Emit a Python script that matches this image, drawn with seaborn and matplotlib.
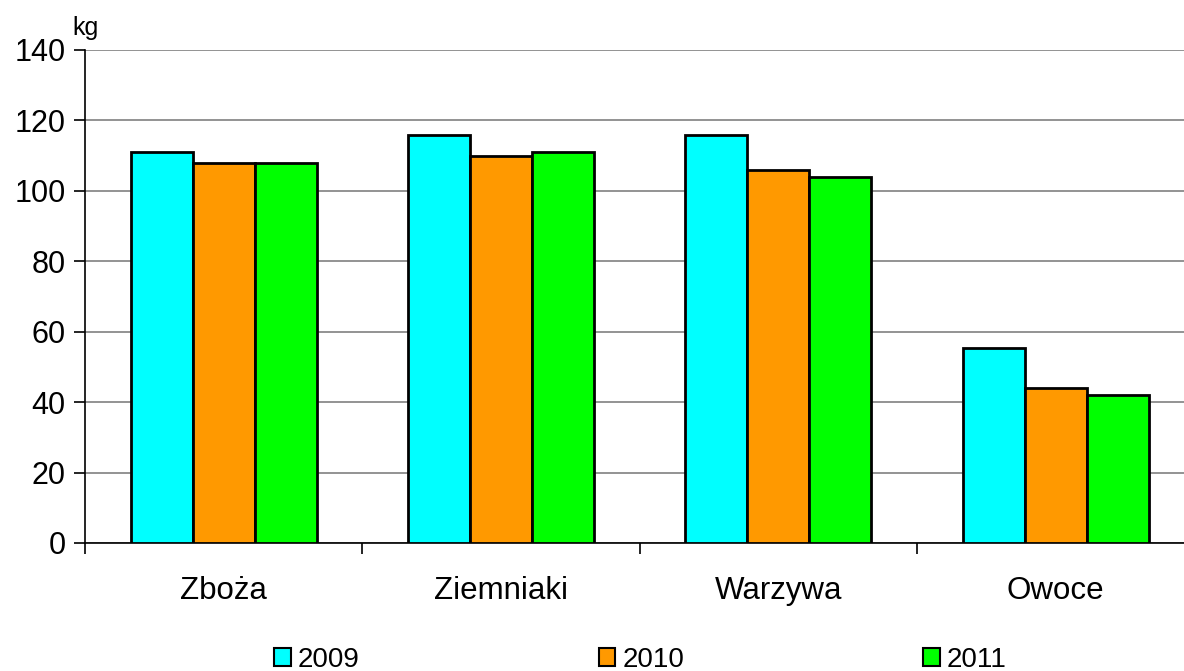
import pandas as pd
import seaborn as sns
import matplotlib.pyplot as plt

categories = ['Zboża', 'Ziemniaki', 'Warzywa', 'Owoce']
years = ['2009', '2010', '2011']
v2009 = [111, 116, 116, 55.5]
v2010 = [108, 110, 106, 44]
v2011 = [108, 111, 104, 42]
colors = ['#00FFFF', '#FF9900', '#00FF00']

df = pd.DataFrame({
    'kat': categories * 3,
    'rok': [y for y in years for _ in categories],
    'kg': v2009 + v2010 + v2011,
})

sns.set_style('white')
plt.rcParams['font.family'] = ['Liberation Sans', 'DejaVu Sans']
plt.rcParams['text.color'] = 'black'
plt.rcParams['xtick.color'] = 'black'
plt.rcParams['ytick.color'] = 'black'

fig = plt.figure(figsize=(11.84, 6.71), dpi=100)
ax = fig.add_axes([0.0718, 0.1908, 0.937, 0.7347])

sns.barplot(data=df, x='kat', y='kg', hue='rok', palette=colors, width=0.67,
            edgecolor='black', linewidth=2, saturation=1, ax=ax, zorder=3)

ax.set_ylim(0, 140)
ax.set_xlim(-0.5, 3.5)
ax.set_yticks(range(0, 141, 20))
ax.yaxis.grid(True, color='#808080', linewidth=1.2, zorder=0)
ax.set_axisbelow(True)
for s in ['top', 'right']:
    ax.spines[s].set_visible(False)
ax.spines['left'].set_color('black')
ax.spines['bottom'].set_color('black')
ax.spines['left'].set_linewidth(1.2)
ax.spines['bottom'].set_linewidth(1.2)

ax.set_xticks([-0.5, 0.5, 1.5, 2.5, 3.5], minor=False)
ax.set_xticklabels([])
ax.set_xticks(range(4), minor=True)
ax.set_xticklabels(categories, minor=True, fontsize=22.5)
ax.tick_params(axis='x', which='major', bottom=True, direction='out', length=8, width=1.2, color='black')
ax.tick_params(axis='x', which='minor', bottom=True, length=0, pad=24, labelcolor='black')
ax.tick_params(axis='y', left=True, direction='out', length=8, width=1.2, color='black',
               labelsize=22, pad=6, labelcolor='black')
ax.set_xlabel('')
ax.set_ylabel('')

fig.text(0.061, 0.948, 'kg', fontsize=18, color='black')

ax.get_legend().remove()
handles = [plt.Rectangle((0, 0), 1, 1, facecolor=c, edgecolor='black', linewidth=1.5) for c in colors]
fig.legend(handles, years, loc='lower center', bbox_to_anchor=(0.541, -0.04), ncol=3,
           frameon=False, fontsize=20, handlelength=0.6, handleheight=0.6,
           handletextpad=0.25, columnspacing=8.6)

fig.savefig('out.png', dpi=100)
